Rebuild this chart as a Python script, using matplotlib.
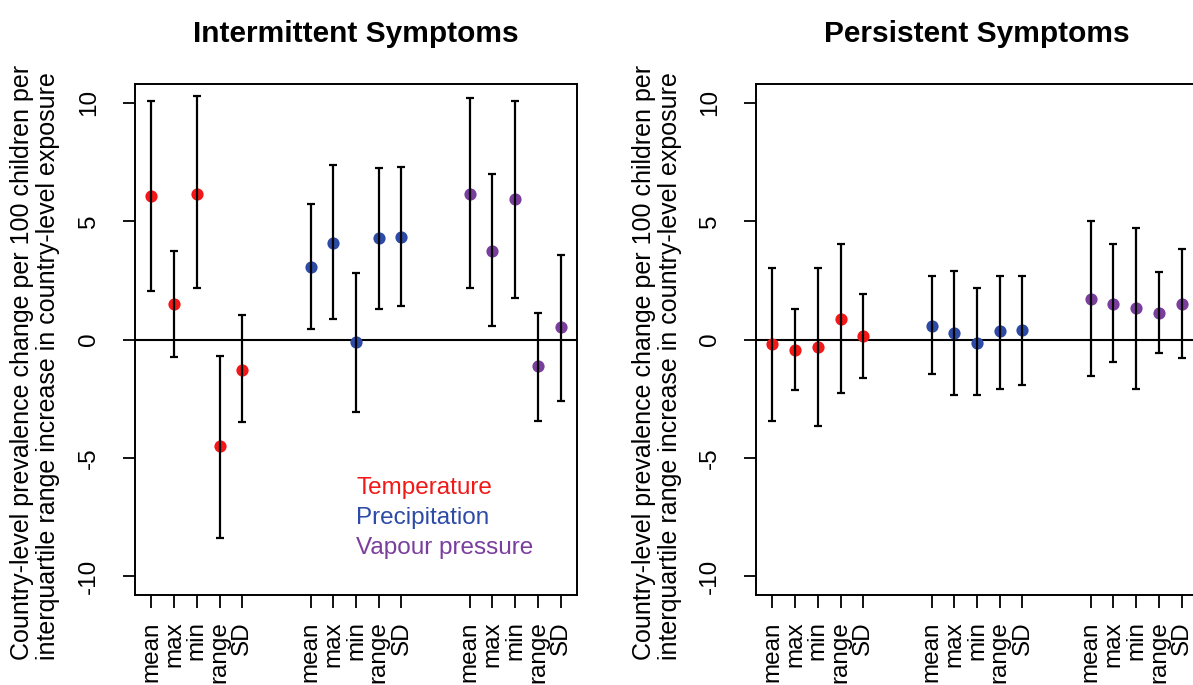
import matplotlib
matplotlib.use("Agg")
import matplotlib.pyplot as plt
import numpy as np

plt.rcParams["font.family"] = ["Liberation Sans", "DejaVu Sans"]

# Summary statistics of each exposure, plotted along the x axis
stat_labels = ["mean", "max", "min", "range", "SD"]
group_offsets = [0, 7, 14]

# Intermittent symptoms: estimate, lower and upper 95% limits
int_temp_est = [6.05, 1.48, 6.17, -4.52, -1.29]
int_temp_lo = [2.03, -0.73, 2.16, -8.39, -3.50]
int_temp_hi = [10.07, 3.76, 10.28, -0.68, 1.03]

int_prec_est = [3.06, 4.07, -0.11, 4.27, 4.34]
int_prec_lo = [0.45, 0.85, -3.06, 1.30, 1.43]
int_prec_hi = [5.72, 7.36, 2.82, 7.23, 7.30]

int_vap_est = [6.17, 3.74, 5.92, -1.14, 0.51]
int_vap_lo = [2.16, 0.56, 1.77, -3.45, -2.58]
int_vap_hi = [10.21, 6.98, 10.07, 1.10, 3.56]

# Persistent symptoms: estimate, lower and upper 95% limits
per_temp_est = [-0.21, -0.46, -0.31, 0.87, 0.14]
per_temp_lo = [-3.44, -2.15, -3.67, -2.28, -1.62]
per_temp_hi = [3.03, 1.28, 3.03, 4.04, 1.91]

per_prec_est = [0.59, 0.27, -0.15, 0.34, 0.41]
per_prec_lo = [-1.47, -2.35, -2.35, -2.08, -1.94]
per_prec_hi = [2.70, 2.91, 2.18, 2.70, 2.70]

per_vap_est = [1.71, 1.52, 1.32, 1.12, 1.52]
per_vap_lo = [-1.56, -0.97, -2.08, -0.58, -0.77]
per_vap_hi = [5.01, 4.04, 4.73, 2.85, 3.83]

exposure_names = ["Temperature", "Precipitation", "Vapour pressure"]
exposure_colors = ["#F21818", "#2C4AA6", "#7A3E9D"]
yticks = [-10, -5, 0, 5, 10]

ylabel_text = ("Country-level prevalence change per 100 children per\n"
               "interquartile range increase in country-level exposure")

W, H = 1193, 685
fig = plt.figure(figsize=(W / 100, H / 100), dpi=100)

FS = 17.5


def draw_panel(ax, title, series):
    base = np.arange(1, 6)
    xticks, xlabels = [], []
    for (est, lo, hi), off, col in zip(series, group_offsets, exposure_colors):
        x = base + off
        est = np.asarray(est)
        lo = np.asarray(lo)
        hi = np.asarray(hi)
        ax.plot(x, est, "o", color=col, markersize=8.8, zorder=3,
                markeredgewidth=0)
        ax.errorbar(x, est, yerr=[est - lo, hi - est], fmt="none",
                    ecolor="black", elinewidth=1.6, capsize=2.8,
                    capthick=1.6, zorder=4)
        xticks.extend(x)
        xlabels.extend(stat_labels)
    ax.axhline(0, color="black", lw=1.5, zorder=2)
    ax.set_xlim(0.28, 19.72)
    ax.set_ylim(-10.8, 10.8)
    ax.set_xticks(xticks)
    ax.set_xticklabels(xlabels, rotation=90, fontsize=FS)
    ax.set_yticks(yticks)
    ax.set_yticklabels([str(t) for t in yticks], rotation=90, fontsize=FS,
                       va="center")
    ax.tick_params(axis="both", length=9, width=1.3, color="black")
    ax.tick_params(axis="y", pad=16)
    ax.tick_params(axis="x", pad=10)
    for s in ax.spines.values():
        s.set_linewidth(1.4)
    ax.set_title(title, fontsize=21.5, fontweight="bold", pad=30)


ax_l = fig.add_axes([135 / W, 1 - 595 / H, 442 / W, 511 / H])
ax_r = fig.add_axes([756 / W, 1 - 595 / H, 442 / W, 511 / H])

draw_panel(ax_l, "Intermittent Symptoms",
           [(int_temp_est, int_temp_lo, int_temp_hi),
            (int_prec_est, int_prec_lo, int_prec_hi),
            (int_vap_est, int_vap_lo, int_vap_hi)])
draw_panel(ax_r, "Persistent Symptoms",
           [(per_temp_est, per_temp_lo, per_temp_hi),
            (per_prec_est, per_prec_lo, per_prec_hi),
            (per_vap_est, per_vap_lo, per_vap_hi)])

# Colour key for the three exposures
key_y = [-6.28, -7.55, -8.82]
for name, col, yy in zip(exposure_names, exposure_colors, key_y):
    ax_l.text(10.0, yy, name, color=col, fontsize=FS, ha="left", va="center")

for x_px in (35, 657):
    fig.text(x_px / W, 1 - 660 / H, ylabel_text, rotation=90, ha="center",
             va="bottom", multialignment="left", fontsize=18.0,
             linespacing=1.08)

fig.savefig("out.png", dpi=100)
